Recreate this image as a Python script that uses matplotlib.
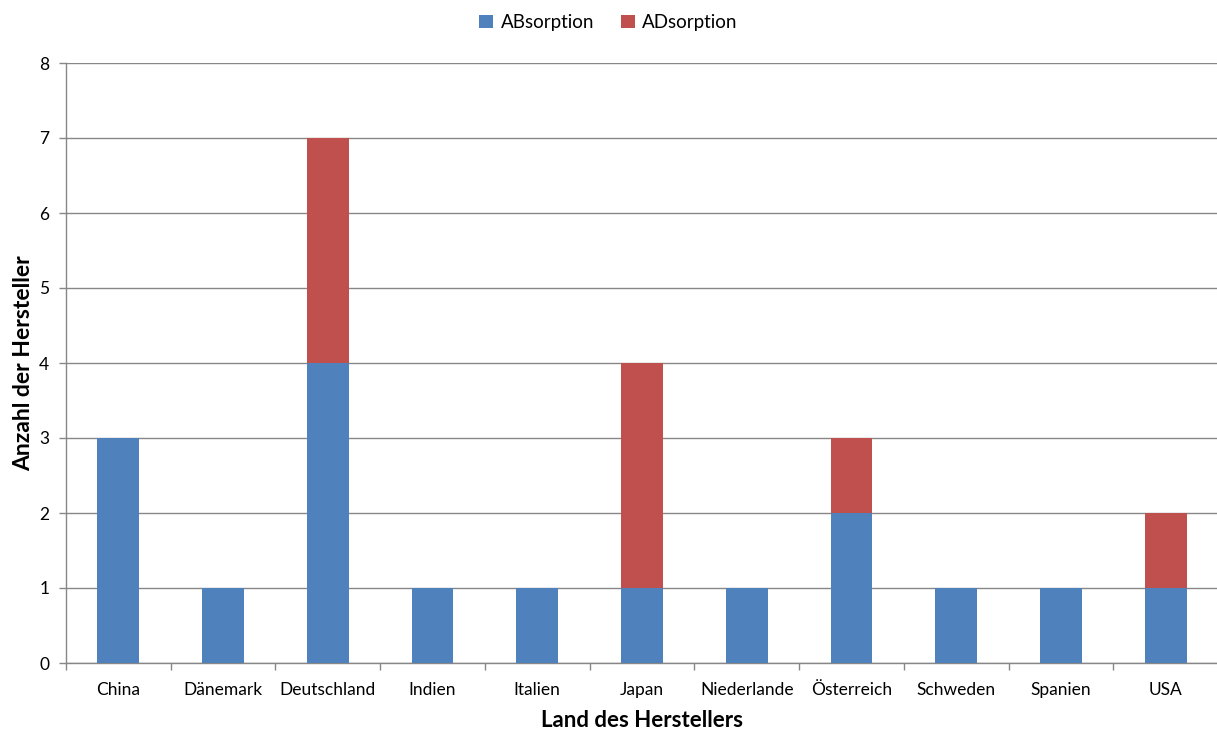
import matplotlib
matplotlib.use("Agg")
import matplotlib.pyplot as plt
import numpy as np

countries = ["China", "Dänemark", "Deutschland", "Indien", "Italien", "Japan",
             "Niederlande", "Österreich", "Schweden", "Spanien", "USA"]
absorption = [3, 1, 4, 1, 1, 1, 1, 2, 1, 1, 1]
adsorption = [0, 0, 3, 0, 0, 3, 0, 1, 0, 0, 1]
y_ticks = [0, 1, 2, 3, 4, 5, 6, 7, 8]

plt.rcParams["font.family"] = ["Lato", "DejaVu Sans"]

blue = "#4F81BD"
red = "#C0504D"
grid_c = "#878787"

fig = plt.figure(figsize=(12.17, 7.30), dpi=100)
ax = fig.add_axes([66 / 1217, 67 / 730, 1152 / 1217, 600 / 730])

x = np.arange(len(countries))
ax.bar(x, absorption, width=0.4, color=blue, label="ABsorption", zorder=3)
ax.bar(x, adsorption, width=0.4, bottom=absorption, color=red, label="ADsorption", zorder=3)

ax.set_xlim(-0.5, len(countries) - 0.5)
ax.set_ylim(0, 8)
ax.set_yticks(y_ticks)
ax.yaxis.grid(True, color=grid_c, linewidth=1.0, zorder=0)

ax.set_xticks(x)
ax.set_xticklabels(countries, fontsize=12.5)
ax.set_xticks(np.arange(len(countries) + 1) - 0.5, minor=True)
ax.tick_params(axis="x", which="major", length=0, pad=14)
ax.tick_params(axis="x", which="minor", length=5, width=1, color=grid_c)
ax.tick_params(axis="y", length=5, width=1, color=grid_c, labelsize=12.5, pad=7)

for s in ("top", "right"):
    ax.spines[s].set_visible(False)
for s in ("left", "bottom"):
    ax.spines[s].set_color(grid_c)
    ax.spines[s].set_linewidth(1.0)

ax.set_xlabel("Land des Herstellers", fontsize=16, fontweight="bold", labelpad=8)
ax.set_ylabel("Anzahl der Hersteller", fontsize=16.5, fontweight="bold", labelpad=4)

fig.legend(loc="upper center", bbox_to_anchor=(0.5, 1.004), ncol=2, frameon=False,
           fontsize=13.5, handlelength=0.75, handleheight=0.75, handletextpad=0.4,
           columnspacing=1.4)

fig.savefig("out.png", dpi=100)
